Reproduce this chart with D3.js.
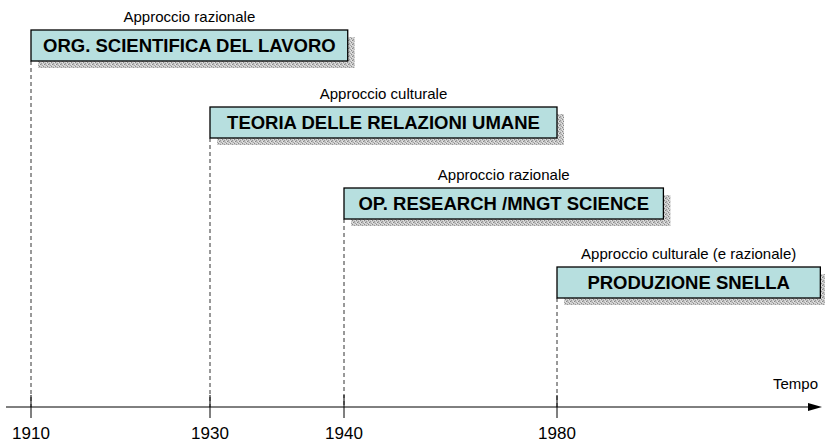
<!DOCTYPE html>
<html>
<head>
<meta charset="utf-8">
<script src="https://cdn.jsdelivr.net/npm/d3@7"></script>
<style>
  html, body { margin: 0; padding: 0; background: #fff; }
  svg { display: block; font-family: Arial, 'Liberation Sans', sans-serif; }
</style>
</head>
<body>
<svg id="chart"></svg>
<script>
// data
const years = [1910, 1930, 1940, 1980];
const approaches = ['Approccio razionale', 'Approccio culturale', 'Approccio razionale', 'Approccio culturale (e razionale)'];
const schools = ['ORG. SCIENTIFICA DEL LAVORO', 'TEORIA DELLE RELAZIONI UMANE', 'OP. RESEARCH /MNGT SCIENCE', 'PRODUZIONE SNELLA'];
const startYears = [1910, 1930, 1940, 1980];
const endYears = [1940.7, 1980, 2000, 2029.5];
const axisLabel = 'Tempo';

const W = 825, H = 443;
const AXIS_Y = 407;
const BOX_H = 31;
const SHADOW = 7;

const svg = d3.select('#chart').attr('width', W).attr('height', H);

// the slide's time axis is not to scale, so piecewise linear
const x = d3.scaleLinear()
  .domain([1910, 1930, 1940, 1980, 2030])
  .range([31, 210, 344, 557, 823]);

const row = d3.scaleLinear().domain([0, 1, 2, 3]).range([30, 107, 188, 267]);

// grainy shadow texture
const defs = svg.append('defs');
const pat = defs.append('pattern')
  .attr('id', 'grain')
  .attr('patternUnits', 'userSpaceOnUse')
  .attr('width', 4).attr('height', 4);
pat.append('rect').attr('width', 4).attr('height', 4).attr('fill', '#cacaca');
[[0, 0, '#8a8a8a'], [2, 1, '#9a9a9a'], [1, 2, '#858585'], [3, 3, '#a4a4a4'], [3, 0, '#e4e4e4'], [1, 3, '#dedede'], [2, 2, '#b4b4b4'], [0, 2, '#e8e8e8']]
  .forEach(([px, py, c]) => {
    pat.append('rect').attr('x', px).attr('y', py).attr('width', 1).attr('height', 1).attr('fill', c);
  });

const boxes = schools.map((s, i) => ({
  name: s,
  approach: approaches[i],
  start: startYears[i],
  end: endYears[i],
  row: i,
}));

// dashed guides from each box down to the axis
svg.append('g')
  .selectAll('line')
  .data(boxes)
  .join('line')
  .attr('x1', (d) => x(d.start))
  .attr('x2', (d) => x(d.start))
  .attr('y1', (d) => row(d.row) + BOX_H)
  .attr('y2', AXIS_Y)
  .attr('stroke', '#333')
  .attr('stroke-width', 1)
  .attr('stroke-dasharray', '4,3');

// axis line + arrow
const axis = svg.append('g');
axis.append('line')
  .attr('x1', 6).attr('x2', x(2030) - 12)
  .attr('y1', AXIS_Y).attr('y2', AXIS_Y)
  .attr('stroke', '#000').attr('stroke-width', 1);
axis.append('path')
  .attr('d', `M${x(2030) - 1},${AXIS_Y} L${x(2030) - 15},${AXIS_Y - 4} L${x(2030) - 15},${AXIS_Y + 4} Z`)
  .attr('fill', '#000');
axis.append('text')
  .attr('x', 818).attr('y', 389)
  .attr('text-anchor', 'end')
  .attr('font-size', 15)
  .text(axisLabel);

axis.selectAll('.tick')
  .data(years)
  .join('line')
  .attr('class', 'tick')
  .attr('x1', (d) => x(d)).attr('x2', (d) => x(d))
  .attr('y1', 395).attr('y2', 418)
  .attr('stroke', '#000').attr('stroke-width', 1);

axis.selectAll('.year')
  .data(years)
  .join('text')
  .attr('class', 'year')
  .attr('x', (d) => x(d))
  .attr('y', 439)
  .attr('text-anchor', 'middle')
  .attr('font-size', 17)
  .text((d) => d);

// boxes
const g = svg.append('g')
  .selectAll('g')
  .data(boxes)
  .join('g')
  .attr('transform', (d) => `translate(${x(d.start)},${row(d.row)})`);

g.append('rect')
  .attr('x', SHADOW).attr('y', SHADOW)
  .attr('width', (d) => x(d.end) - x(d.start))
  .attr('height', BOX_H)
  .attr('fill', 'url(#grain)');

g.append('rect')
  .attr('width', (d) => x(d.end) - x(d.start))
  .attr('height', BOX_H)
  .attr('fill', '#b7dfdf')
  .attr('stroke', '#000')
  .attr('stroke-width', 1.3);

g.append('text')
  .attr('x', (d) => (x(d.end) - x(d.start)) / 2)
  .attr('y', BOX_H / 2 + 6.6)
  .attr('text-anchor', 'middle')
  .attr('font-size', 18.5)
  .attr('font-weight', 'bold')
  .text((d) => d.name);

g.append('text')
  .attr('x', (d) => (x(d.end) - x(d.start)) / 2)
  .attr('y', -8)
  .attr('text-anchor', 'middle')
  .attr('font-size', 15)
  .text((d) => d.approach);
</script>
</body>
</html>
